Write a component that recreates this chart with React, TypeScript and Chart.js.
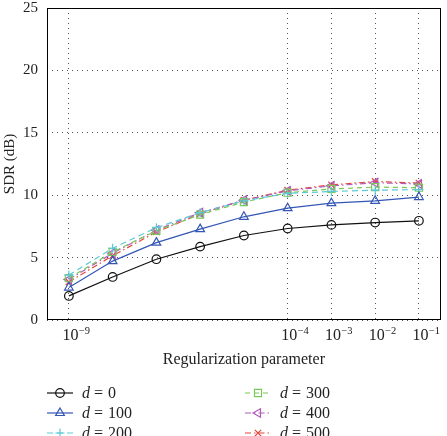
import React, { useEffect, useRef } from "react";
import { Chart, registerables } from "chart.js";

Chart.register(...registerables);

// ---- data ----
const regParams = [1e-9, 1e-8, 1e-7, 1e-6, 1e-5, 1e-4, 1e-3, 1e-2, 1e-1];
const xTickExponents = [-9, -4, -3, -2, -1];
const yTickValues = [0, 5, 10, 15, 20, 25];
const dLabels = ["0", "100", "200", "300", "400", "500"];

const sdrD0 = [1.93, 3.45, 4.87, 5.88, 6.77, 7.33, 7.62, 7.81, 7.95];
const sdrD100 = [2.6, 4.72, 6.2, 7.28, 8.27, 8.96, 9.36, 9.55, 9.85];
const sdrD200 = [3.6, 5.75, 7.4, 8.6, 9.55, 10.15, 10.3, 10.4, 10.45];
const sdrD300 = [3.35, 5.45, 7.15, 8.45, 9.45, 10.2, 10.5, 10.65, 10.6];
const sdrD400 = [3.25, 5.35, 7.2, 8.6, 9.6, 10.35, 10.75, 11.0, 10.9];
const sdrD500 = [3.05, 5.15, 7.05, 8.5, 9.6, 10.4, 10.83, 11.1, 10.97];

const seriesValues = [sdrD0, sdrD100, sdrD200, sdrD300, sdrD400, sdrD500];

// ---- styles ----
const FONT = "'Liberation Serif', 'Times New Roman', serif";
const TEXT = "#222222";
const seriesStyles = [
  { color: "#111111", dash: [] as number[], point: "circle", rot: 0, r: 4.3 },
  { color: "#3456b4", dash: [] as number[], point: "triangle", rot: 0, r: 5 },
  { color: "#5cc9d6", dash: [6, 4], point: "cross", rot: 0, r: 4.5 },
  { color: "#78c95a", dash: [5, 4], point: "rect", rot: 0, r: 5 },
  { color: "#b25cbd", dash: [6, 3, 1.5, 3], point: "triangle", rot: -90, r: 5 },
  { color: "#e4463c", dash: [6, 3, 1.5, 3], point: "crossRot", rot: 0, r: 4.5 },
];

function drawMarker(ctx: CanvasRenderingContext2D, shape: string, rot: number, x: number, y: number, r: number) {
  ctx.beginPath();
  let rad = (rot * Math.PI) / 180;
  if (shape === "circle") {
    ctx.arc(x, y, r, 0, Math.PI * 2);
  } else if (shape === "triangle") {
    for (let k = 0; k < 3; k++) {
      const px = x + Math.sin(rad) * r;
      const py = y - Math.cos(rad) * r;
      if (k === 0) ctx.moveTo(px, py);
      else ctx.lineTo(px, py);
      rad += (2 * Math.PI) / 3;
    }
    ctx.closePath();
  } else if (shape === "rect") {
    const s = r * Math.SQRT1_2;
    ctx.rect(x - s, y - s, 2 * s, 2 * s);
  } else if (shape === "cross") {
    ctx.moveTo(x - r, y);
    ctx.lineTo(x + r, y);
    ctx.moveTo(x, y - r);
    ctx.lineTo(x, y + r);
  } else if (shape === "crossRot") {
    const s = r * Math.SQRT1_2;
    ctx.moveTo(x - s, y - s);
    ctx.lineTo(x + s, y + s);
    ctx.moveTo(x - s, y + s);
    ctx.lineTo(x + s, y - s);
  }
  ctx.stroke();
}

const overlayPlugin = {
  id: "overlay",
  afterDraw(chart: any) {
    const { ctx, chartArea: a, scales } = chart;
    ctx.save();
    // frame
    ctx.setLineDash([]);
    ctx.strokeStyle = "#000";
    ctx.lineWidth = 1;
    const l = Math.round(a.left) + 0.5;
    const r = Math.round(a.right) - 0.5;
    const t = Math.round(a.top) + 0.5;
    const b = Math.round(a.bottom) - 0.5;
    ctx.strokeRect(l, t, r - l, b - t);

    // x tick labels (10^n)
    const xs = scales.x;
    ctx.fillStyle = TEXT;
    ctx.textAlign = "left";
    ctx.textBaseline = "alphabetic";
    xTickExponents.forEach((e) => {
      const px = xs.getPixelForValue(Math.pow(10, e));
      const base = "10";
      const exp = "\u2212" + Math.abs(e);
      ctx.font = `16px ${FONT}`;
      const wb = ctx.measureText(base).width;
      const x0 = px - 6.5;
      ctx.fillText(base, x0, 340);
      ctx.font = `10.5px ${FONT}`;
      ctx.fillText(exp, x0 + wb + 0.5, 334);
    });

    // x title
    ctx.font = `16px ${FONT}`;
    ctx.textAlign = "center";
    ctx.fillText("Regularization parameter", (a.left + a.right) / 2, 364);

    // legend
    ctx.textAlign = "left";
    seriesStyles.forEach((st, i) => {
      const col = Math.floor(i / 3);
      const row = i % 3;
      const lx = col === 0 ? 47 : 245;
      const cy = 393 + row * 20;
      ctx.strokeStyle = st.color;
      ctx.lineWidth = 1.2;
      ctx.setLineDash(st.dash);
      ctx.beginPath();
      ctx.moveTo(lx, cy);
      ctx.lineTo(lx + 26, cy);
      ctx.stroke();
      ctx.setLineDash([]);
      drawMarker(ctx, st.point, st.rot, lx + 13, cy, st.r);
      const tx = col === 0 ? 82 : 280;
      ctx.fillStyle = TEXT;
      ctx.font = `italic 16px ${FONT}`;
      ctx.fillText("d", tx, cy + 5);
      ctx.font = `16px ${FONT}`;
      ctx.fillText("=", tx + 12, cy + 5);
      ctx.fillText(dLabels[i], tx + 26, cy + 5);
    });
    ctx.restore();
  },
};

export default function App() {
  const canvasRef = useRef<HTMLCanvasElement | null>(null);

  useEffect(() => {
    document.body.style.margin = "0";
    const canvas = canvasRef.current;
    if (!canvas) return;
    const chart = new Chart(canvas, {
      type: "line",
      data: {
        datasets: seriesValues.map((vals, i) => {
          const st = seriesStyles[i];
          return {
            label: "d = " + dLabels[i],
            data: regParams.map((x, k) => ({ x, y: vals[k] })),
            borderColor: st.color,
            borderWidth: 1.2,
            borderDash: st.dash,
            pointStyle: st.point as any,
            pointRotation: st.rot,
            pointRadius: st.r,
            pointBorderWidth: 1.2,
            pointBorderColor: st.color,
            pointBackgroundColor: "rgba(0,0,0,0)",
            fill: false,
            tension: 0,
          };
        }),
      },
      options: {
        animation: false,
        responsive: false,
        devicePixelRatio: 1,
        layout: { padding: { top: 8, right: 5, left: 0, bottom: 0 } },
        plugins: { legend: { display: false }, tooltip: { enabled: false } },
        scales: {
          x: {
            type: "logarithmic",
            min: Math.pow(10, -9.5),
            max: Math.pow(10, -0.5),
            afterBuildTicks: (s: any) => {
              s.ticks = xTickExponents.map((e) => ({ value: Math.pow(10, e) }));
            },
            afterFit: (s: any) => {
              s.height = 116;
              s.paddingLeft = 0;
              s.paddingRight = 0;
            },
            ticks: { display: false },
            grid: { color: "#555", lineWidth: 1, drawTicks: false },
            border: { display: false, dash: [1, 4] },
          },
          y: {
            type: "linear",
            min: 0,
            max: 25,
            afterBuildTicks: (s: any) => {
              s.ticks = yTickValues.map((v) => ({ value: v }));
            },
            afterFit: (s: any) => {
              s.width = 47;
              s.paddingTop = 0;
              s.paddingBottom = 0;
            },
            ticks: { font: { family: FONT, size: 15 }, color: TEXT, padding: 9 },
            grid: { color: "#555", lineWidth: 1, drawTicks: false },
            border: { display: false, dash: [1, 4] },
            title: {
              display: true,
              text: "SDR (dB)",
              font: { family: FONT, size: 15 },
              color: TEXT,
              padding: { top: 1, bottom: 0 },
            },
          },
        },
      } as any,
      plugins: [overlayPlugin],
    });
    return () => chart.destroy();
  }, []);

  return (
    <div style={{ width: 447, height: 436 }}>
      <canvas ref={canvasRef} width={447} height={436} style={{ display: "block" }} />
    </div>
  );
}
